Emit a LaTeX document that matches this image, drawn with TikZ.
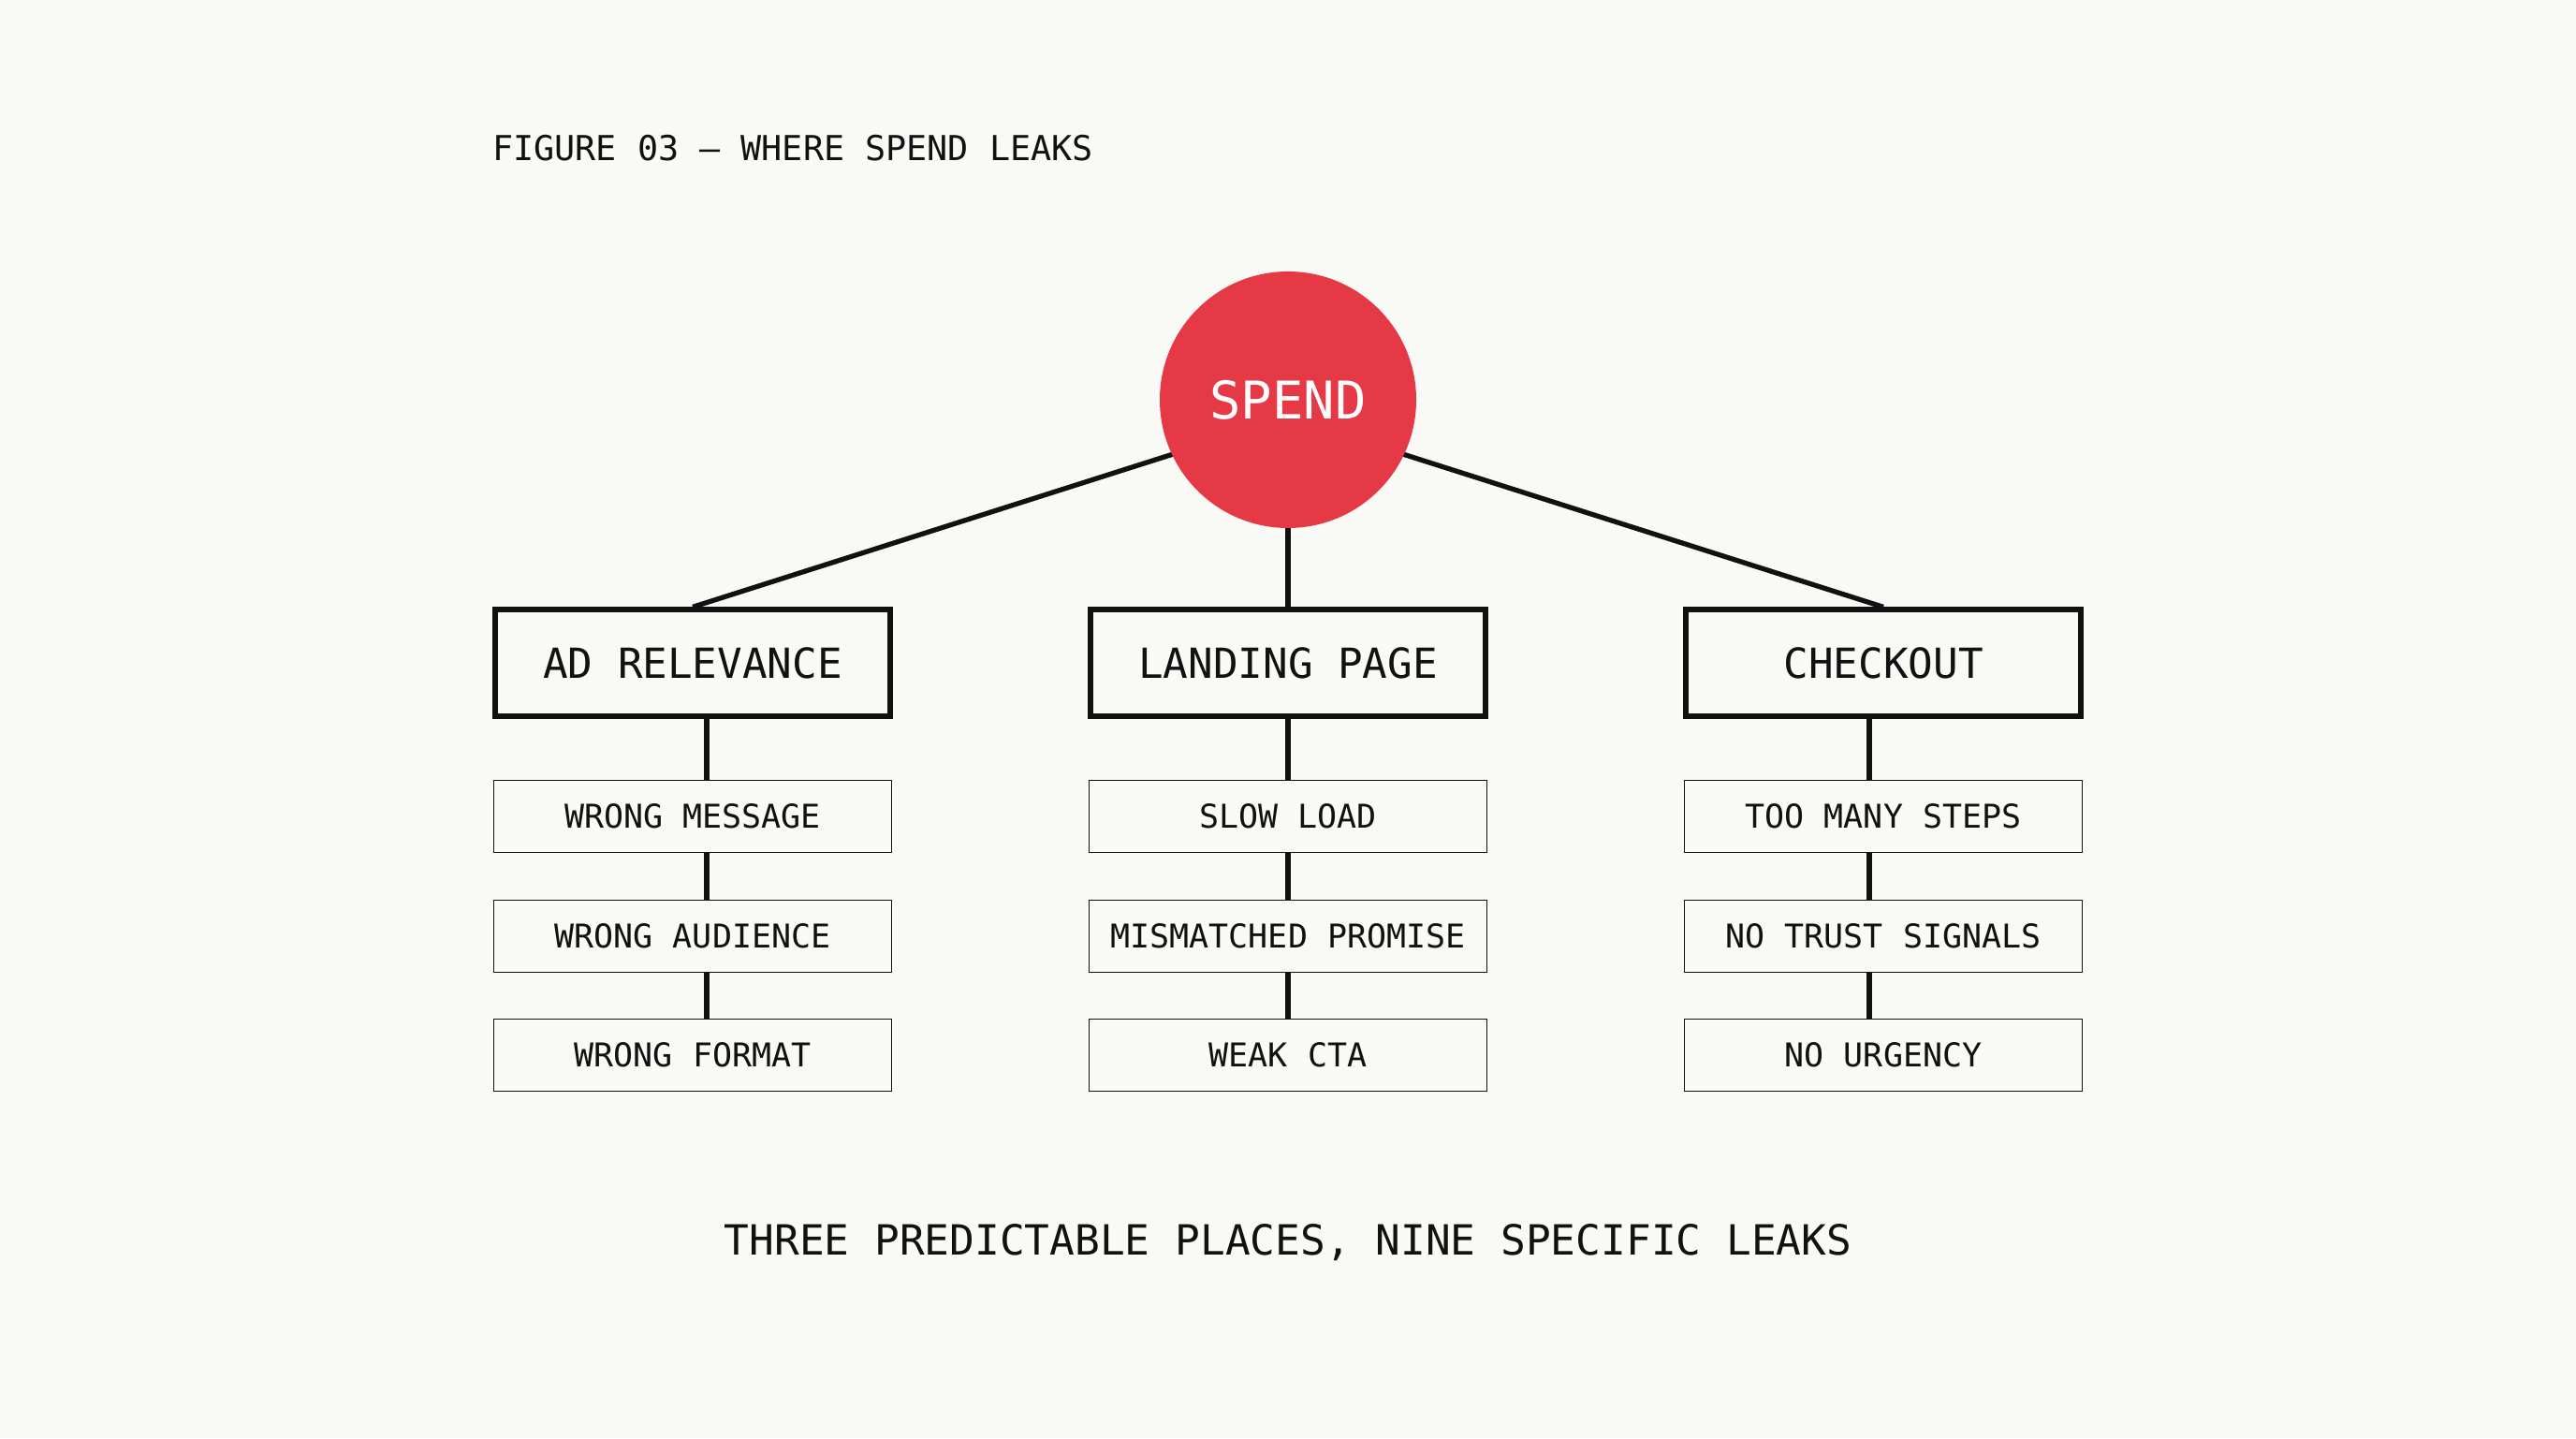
\documentclass[tikz,border=0pt]{standalone}
\usepackage{fontspec}
\usepackage{tikz}
\usepackage{xcolor}
\usetikzlibrary{positioning,calc}
\setmainfont{DejaVu Sans Mono}
\definecolor{paper}{HTML}{F9F9F6}
\definecolor{spendred}{HTML}{E63946}
\definecolor{ink}{HTML}{111111}

\begin{document}
\begin{tikzpicture}[
  stage/.style={draw=ink, line width=1.5pt, minimum width=4.22cm, minimum height=1.14cm, align=center, font=\fontsize{12.6}{15}\selectfont, text=ink},
  leak/.style={draw=ink, line width=0.45pt, minimum width=4.25cm, minimum height=0.77cm, align=center, font=\fontsize{9.95}{12}\selectfont, text=ink},
  link/.style={draw=ink, line width=1.5pt}
]
\fill[paper] (0,0) rectangle (27.52,15.36);
\useasboundingbox (0,0) rectangle (27.52,15.36);

\node[anchor=west, font=\fontsize{10.45}{12}\selectfont, text=ink] (title) at (5.14,13.78) {FIGURE 03 — WHERE SPEND LEAKS};

\node[stage] (adrel) at (7.40,8.28) {AD RELEVANCE};
\node[stage] (landing) at (13.76,8.28) {LANDING PAGE};
\node[stage] (checkout) at (20.12,8.28) {CHECKOUT};

% links start a little below the circle centre, hidden behind it
\coordinate (hub) at (13.76,10.90);
\draw[link] (hub) -- (adrel.north);
\draw[link] (hub) -- (landing.north);
\draw[link] (hub) -- (checkout.north);

\node[circle, fill=spendred, minimum size=2.74cm, inner sep=0pt, text=white, font=\fontsize{15.8}{18}\selectfont] (spend) at (13.76,11.09) {SPEND};

% leaks under each stage
\node[leak] (wmsg) at (7.40,6.64) {WRONG MESSAGE};
\node[leak] (waud) at (7.40,5.36) {WRONG AUDIENCE};
\node[leak] (wfmt) at (7.40,4.09) {WRONG FORMAT};

\node[leak] (slow) at (13.76,6.64) {SLOW LOAD};
\node[leak] (promise) at (13.76,5.36) {MISMATCHED PROMISE};
\node[leak] (cta) at (13.76,4.09) {WEAK CTA};

\node[leak] (steps) at (20.12,6.64) {TOO MANY STEPS};
\node[leak] (trust) at (20.12,5.36) {NO TRUST SIGNALS};
\node[leak] (urgency) at (20.12,4.09) {NO URGENCY};

\draw[link] ([xshift=1.5mm]adrel.south) -- ([xshift=1.5mm]wmsg.north);
\draw[link] ([xshift=1.5mm]wmsg.south) -- ([xshift=1.5mm]waud.north);
\draw[link] ([xshift=1.5mm]waud.south) -- ([xshift=1.5mm]wfmt.north);

\draw[link] (landing.south) -- (slow.north);
\draw[link] (slow.south) -- (promise.north);
\draw[link] (promise.south) -- (cta.north);

\draw[link] ([xshift=-1.5mm]checkout.south) -- ([xshift=-1.5mm]steps.north);
\draw[link] ([xshift=-1.5mm]steps.south) -- ([xshift=-1.5mm]trust.north);
\draw[link] ([xshift=-1.5mm]trust.south) -- ([xshift=-1.5mm]urgency.north);

\node[font=\fontsize{12.65}{15}\selectfont, text=ink] (footer) at (13.76,2.09) {THREE PREDICTABLE PLACES, NINE SPECIFIC LEAKS};
\end{tikzpicture}
\end{document}
